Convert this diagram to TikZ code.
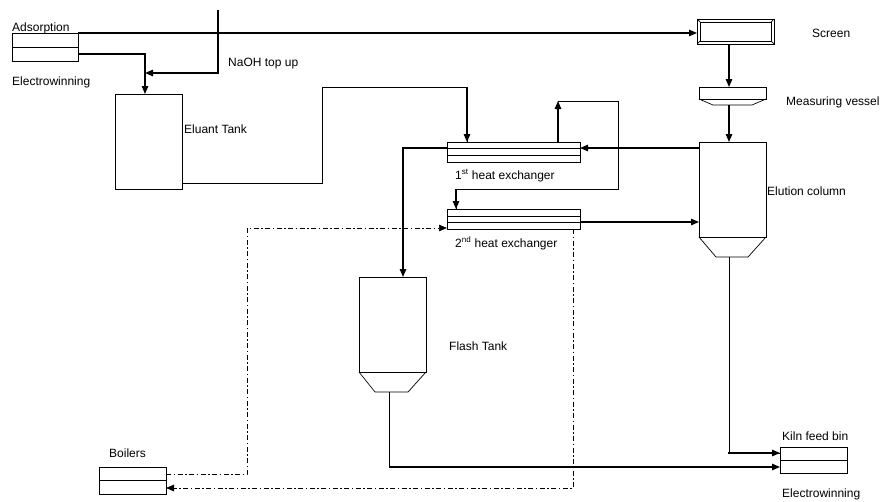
\documentclass[tikz,border=0pt]{standalone}
\usepackage{fontspec}
\setmainfont{Liberation Sans}
\usetikzlibrary{arrows.meta,calc}
\begin{document}
\begin{tikzpicture}[x=1pt,y=-1pt,
 box/.style={draw,line width=0.7pt,inner sep=0,outer sep=0,anchor=north west},
 thinl/.style={line width=0.7pt},
 tip/.style={-{Triangle[length=8pt,width=6.5pt]}},
 flow/.style={line width=1.3pt,tip},
 thinflow/.style={line width=0.7pt,tip},
 dd/.style={line width=0.7pt,dash pattern=on 5pt off 2.5pt on 1.5pt off 2.5pt},
 lbl/.style={anchor=west,inner sep=0,text height=8pt,text depth=0pt,font=\fontsize{12}{14}\selectfont}]
\useasboundingbox (0,0) rectangle (881,501);

% ---------- boxes ----------
\node[box,minimum width=66,minimum height=28] (ads) at (12,33) {};
\draw[thinl] (ads.west) -- (ads.east);

\node[box,minimum width=77,minimum height=25] (screen) at (697,19) {};
\draw[thinl] ($(screen.north west)+(3,3)$) rectangle ($(screen.south east)+(-3,-3)$);
\draw[thinl] (screen.north west) -- ++(3,3);
\draw[thinl] (screen.north east) -- ++(-3,3);
\draw[thinl] (screen.south west) -- ++(3,-3);
\draw[thinl] (screen.south east) -- ++(-3,-3);

\node[box,minimum width=67,minimum height=95] (eluant) at (115,94) {};

\node[box,minimum width=133,minimum height=20] (hx1) at (447,142) {};
\draw[thinl] ($(hx1.north west)+(0,6)$) -- ($(hx1.north east)+(0,6)$);
\draw[thinl] ($(hx1.north west)+(0,13)$) -- ($(hx1.north east)+(0,13)$);

\node[box,minimum width=133,minimum height=20] (hx2) at (447,209) {};
\draw[thinl] ($(hx2.north west)+(0,7)$) -- ($(hx2.north east)+(0,7)$);
\draw[thinl] ($(hx2.north west)+(0,13)$) -- ($(hx2.north east)+(0,13)$);

\node[box,minimum width=67,minimum height=12] (mv) at (699,87) {};
\draw[thinl] (mv.south west) -- ++(14,6) -- ++(39,0) -- (mv.south east);

\node[box,minimum width=67,minimum height=95] (ec) at (699,142) {};
\draw[thinl] (ec.south west) -- ++(17,20) -- ++(32,0) -- (ec.south east);

\node[box,minimum width=67,minimum height=95] (flash) at (359,277) {};
\draw[thinl] (flash.south west) -- ++(16,20) -- ++(33,0) -- (flash.south east);

\node[box,minimum width=67,minimum height=26] (kiln) at (780,447) {};
\draw[thinl] (kiln.west) -- (kiln.east);

\node[box,minimum width=67,minimum height=27] (boil) at (99,467) {};
\draw[thinl] (boil.west) -- (boil.east);

% ---------- labels ----------
\node[lbl] (tads) at (12,27) {Adsorption};
\node[lbl] (tew1) at (12,81) {Electrowinning};
\node[lbl] (tnaoh) at (228,62) {NaOH top up};
\node[lbl] (telu) at (184,129) {Eluant Tank};
\node[lbl] (tscr) at (812,33) {Screen};
\node[lbl] (tmv) at (786,101) {Measuring vessel};
\node[lbl] (tec) at (767,191) {Elution column};
\node[lbl] (thx1) at (455,175) {1\textsuperscript{st} heat exchanger};
\node[lbl] (thx2) at (455,243) {2\textsuperscript{nd} heat exchanger};
\node[lbl] (tft) at (449,346) {Flash Tank};
\node[lbl] (tboil) at (109,453) {Boilers};
\node[lbl] (tkiln) at (782,436) {Kiln feed bin};
\node[lbl] (tew2) at (782,493) {Electrowinning};

% ---------- connectors ----------
\draw[flow] (ads.north east) -- (ads.north east -| screen.west);

\coordinate (adslo) at ($(ads.east)!0.5!(ads.south east)$);
\coordinate (eluin) at ($(eluant.north west)+(30,0)$);
\draw[flow] (adslo) -| (eluin);

\coordinate (naoh) at (218,10);
\coordinate (join) at (145,73);
\draw[flow] (naoh) |- (join);

\coordinate (e0) at ($(eluant.south east)+(0,-6)$);
\coordinate (e1) at (322,87);
\coordinate (hx1in) at ($(hx1.north west)+(20,0)$);
\draw[thinl] (e0) -| (e1) -| (hx1in);
\draw[flow] (hx1in |- e1) -- (hx1in);

\coordinate (hx1l) at ($(hx1.north west)+(0,6)$);
\coordinate (ftin) at ($(flash.north west)+(44,0)$);
\draw[flow] (hx1l) -| (ftin);

\coordinate (hx1up) at ($(hx1.north west)+(111,0)$);
\coordinate (l1) at (558,101);
\coordinate (l2) at (618,189);
\coordinate (hx2in) at ($(hx2.north west)+(9,0)$);
\draw[flow] (hx1up) -- (l1);
\draw[thinl] (l1) -| (l2) -| (hx2in);
\draw[flow] (hx2in |- l2) -- (hx2in);

\coordinate (h2o) at ($(hx2.north east)+(0,13)$);
\draw[flow] (h2o) -- (h2o -| ec.west);
\coordinate (h1i) at ($(hx1.north east)+(0,6)$);
\draw[flow] (h1i -| ec.west) -- (h1i);

\coordinate (mvt) at ($(mv.north west)+(30,0)$);
\draw[flow] (mvt |- screen.south) -- (mvt);
\coordinate (mvb) at ($(mv.south west)+(30,6)$);
\draw[flow] (mvb) -- (mvb |- ec.north);

\coordinate (ecb) at ($(ec.south west)+(30,20)$);
\coordinate (kin1) at ($(kiln.north west)+(0,6)$);
\draw[thinl] (ecb) |- (kin1);
\draw[flow] ($(kin1)+(-52,0)$) -- (kin1);

\coordinate (ftb) at ($(flash.south west)+(30,20)$);
\coordinate (kin2) at ($(kiln.north west)+(0,20)$);
\draw[thinl] (ftb) -- (ftb |- kin2);
\draw[flow] (ftb |- kin2) -- (kin2);

\coordinate (bo1) at ($(boil.north east)+(0,7)$);
\coordinate (dv) at (247,0);
\coordinate (hx2b) at ($(hx2.south west)+(0,-1)$);
\draw[dd,tip] (bo1) -| (dv |- hx2b) -- (hx2b);

\coordinate (hx2out) at ($(hx2.south west)+(126,0)$);
\coordinate (bo2) at ($(boil.south east)+(0,-6)$);
\draw[dd,tip,line width=1pt] (hx2out) |- (bo2);
\end{tikzpicture}
\end{document}
